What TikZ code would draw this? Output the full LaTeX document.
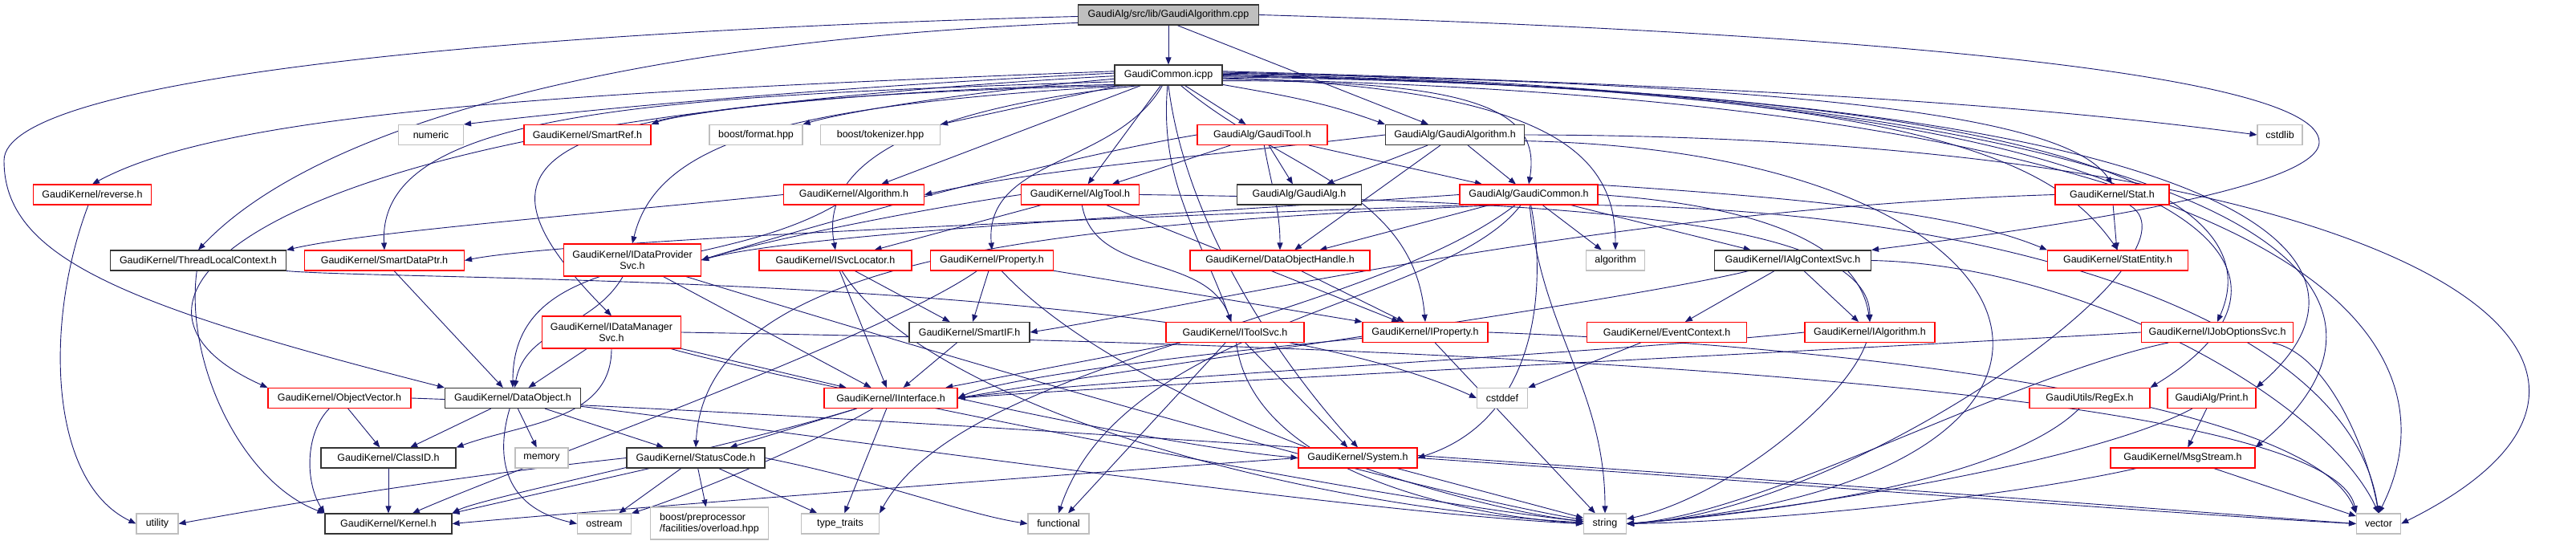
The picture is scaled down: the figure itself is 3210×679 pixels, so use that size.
\documentclass[tikz,border=0pt]{standalone}
\usepackage{fontspec}
\setmainfont{Liberation Sans}
\usetikzlibrary{arrows.meta}
\pgfdeclarelayer{bg}
\pgfsetlayers{bg,main}
\definecolor{edgeblue}{RGB}{25,25,112}
\definecolor{sysgray}{RGB}{191,191,191}
\newcommand\hdrfont{\fontsize{12.5}{14}\selectfont}
\tikzset{
  hdr/.style={draw, fill=white, font=\hdrfont, inner sep=0pt, minimum height=25pt, line width=1.1pt},
  docfile/.style={hdr, draw=black!80},
  redfile/.style={hdr, draw=red},
  sysfile/.style={hdr, draw=sysgray},
  dep/.style={draw=edgeblue, line width=0.9pt, -{Triangle[length=9pt,width=7pt]}}
}
\begin{document}
\begin{tikzpicture}[x=1pt,y=1pt]
\useasboundingbox (0,0) rectangle (3210,-679);
% row 0 and 1
\node[docfile, fill=sysgray, minimum width=225pt] (root) at (1456,-18.5) {GaudiAlg/src/lib/GaudiAlgorithm.cpp};
\node[docfile, minimum width=134pt] (icpp) at (1456,-93.5) {GaudiCommon.icpp};
% row 2
\node[sysfile, minimum width=81pt] (numeric) at (537,-168) {numeric};
\node[redfile, minimum width=158pt] (smartref) at (732,-168) {GaudiKernel/SmartRef.h};
\node[sysfile, minimum width=116pt] (format) at (942,-168) {boost/format.hpp};
\node[sysfile, minimum width=149pt] (tokenizer) at (1097,-168) {boost/tokenizer.hpp};
\node[redfile, minimum width=162pt] (gtool) at (1573,-168) {GaudiAlg/GaudiTool.h};
\node[docfile, minimum width=173pt] (galgh) at (1813,-168) {GaudiAlg/GaudiAlgorithm.h};
\node[sysfile, minimum width=56pt] (cstdlib) at (2841,-168) {cstdlib};
% row 3
\node[redfile, minimum width=147pt] (reverse) at (115,-242.5) {GaudiKernel/reverse.h};
\node[redfile, minimum width=175pt] (algo) at (1064,-242.5) {GaudiKernel/Algorithm.h};
\node[redfile, minimum width=147pt] (algtool) at (1346,-242.5) {GaudiKernel/AlgTool.h};
\node[docfile, minimum width=155pt] (galg) at (1619,-242.5) {GaudiAlg/GaudiAlg.h};
\node[redfile, minimum width=172pt] (gcommonh) at (1905,-242.5) {GaudiAlg/GaudiCommon.h};
\node[redfile, minimum width=142pt] (stat) at (2632,-242.5) {GaudiKernel/Stat.h};
% row 4
\node[docfile, minimum width=219pt] (tlc) at (247,-324.5) {GaudiKernel/ThreadLocalContext.h};
\node[redfile, minimum width=199pt] (smartdp) at (479,-324.5) {GaudiKernel/SmartDataPtr.h};
\node[redfile, minimum width=171pt, minimum height=40pt, align=center] (idpsvc) at (788,-324) {GaudiKernel/IDataProvider\\Svc.h};
\node[redfile, minimum width=190pt] (isvcloc) at (1041,-324.5) {GaudiKernel/ISvcLocator.h};
\node[redfile, minimum width=153pt] (property) at (1236,-324.5) {GaudiKernel/Property.h};
\node[redfile, minimum width=224pt] (dohandle) at (1595,-324.5) {GaudiKernel/DataObjectHandle.h};
\node[sysfile, minimum width=73pt] (algorithm) at (2013,-324.5) {algorithm};
\node[docfile, minimum width=195pt] (ialgctx) at (2234,-324.5) {GaudiKernel/IAlgContextSvc.h};
\node[redfile, minimum width=175pt] (statentity) at (2639,-324.5) {GaudiKernel/StatEntity.h};
% row 5
\node[redfile, minimum width=173pt, minimum height=40pt, align=center] (idmsvc) at (762,-414) {GaudiKernel/IDataManager\\Svc.h};
\node[docfile, minimum width=150pt] (smartif) at (1208,-414) {GaudiKernel/SmartIF.h};
\node[redfile, minimum width=172pt] (itoolsvc) at (1539,-414) {GaudiKernel/IToolSvc.h};
\node[redfile, minimum width=156pt] (iprop) at (1776,-414) {GaudiKernel/IProperty.h};
\node[redfile, minimum width=199pt] (eventctx) at (2077,-414) {GaudiKernel/EventContext.h};
\node[redfile, minimum width=162pt] (ialgorithm) at (2330,-414) {GaudiKernel/IAlgorithm.h};
\node[redfile, minimum width=189pt] (ijobopt) at (2763,-414) {GaudiKernel/IJobOptionsSvc.h};
% row 6
\node[redfile, minimum width=178pt] (objvec) at (423,-496) {GaudiKernel/ObjectVector.h};
\node[docfile, minimum width=169pt] (dataobj) at (639,-496) {GaudiKernel/DataObject.h};
\node[redfile, minimum width=166pt] (iinterface) at (1110,-496) {GaudiKernel/IInterface.h};
\node[sysfile, minimum width=63pt] (cstddef) at (1872,-496) {cstddef};
\node[redfile, minimum width=150pt] (regex) at (2604,-496) {GaudiUtils/RegEx.h};
\node[redfile, minimum width=110pt] (print) at (2756,-496) {GaudiAlg/Print.h};
% row 7
\node[docfile, minimum width=168pt] (classid) at (484,-570.5) {GaudiKernel/ClassID.h};
\node[sysfile, minimum width=66pt] (memory) at (675,-570.5) {memory};
\node[docfile, minimum width=172pt] (statuscode) at (867,-570.5) {GaudiKernel/StatusCode.h};
\node[redfile, minimum width=148pt] (system) at (1692,-570.5) {GaudiKernel/System.h};
\node[redfile, minimum width=180pt] (msgstream) at (2720,-570.5) {GaudiKernel/MsgStream.h};
% row 8
\node[sysfile, minimum width=52pt] (utility) at (196,-652.5) {utility};
\node[docfile, minimum width=158pt] (kernel) at (484,-652.5) {GaudiKernel/Kernel.h};
\node[sysfile, minimum width=67pt] (ostream) at (753,-652.5) {ostream};
\node[sysfile, minimum width=147pt, minimum height=40pt, align=left] (overload) at (884,-652) {boost/preprocessor\\/facilities/overload.hpp};
\node[sysfile, minimum width=97pt] (ttraits) at (1047,-652.5) {type\_traits};
\node[sysfile, minimum width=76pt] (functional) at (1319,-652.5) {functional};
\node[sysfile, minimum width=53pt] (string) at (2000,-652.5) {string};
\node[sysfile, minimum width=55pt] (vector) at (2964,-652.5) {vector};
\begin{pgfonlayer}{bg}
% GaudiAlgorithm.cpp
\draw[dep] (root) -- (icpp);
\draw[dep] (root.-50) -- (galgh);
\draw[dep] (root.east) .. controls (2300,-40) and (2890,-90) .. (2890,-177) .. controls (2890,-240) and (2500,-290) .. (ialgctx.north east);
\draw[dep] (root.181) .. controls (600,-40) and (5,-100) .. (5,-200) .. controls (5,-320) and (150,-380) .. (dataobj.north west);
\draw[dep] (root.185) .. controls (800,-50) and (400,-150) .. (tlc.north);
% GaudiCommon.icpp
\draw[dep] (icpp.178) .. controls (1000,-110) and (700,-140) .. (numeric.north east);
\draw[dep] (icpp.181) .. controls (1100,-110) and (850,-140) .. (smartref.north east);
\draw[dep] (icpp.184) .. controls (1200,-115) and (1050,-140) .. (format.north east);
\draw[dep] (icpp) -- (tokenizer.north east);
\draw[dep] (icpp.176) .. controls (700,-115) and (280,-140) .. (reverse.north);
\draw[dep] (icpp.187) .. controls (800,-120) and (470,-140) .. (smartdp.north);
\draw[dep] (icpp.190) .. controls (400,-125) and (60,-360) .. (objvec.north west);
\draw[dep] (icpp.195) .. controls (1000,-130) and (820,-170) .. (idpsvc.north);
\draw[dep] (icpp.192) .. controls (650,-125) and (560,-190) .. (idmsvc.north);
\draw[dep] (icpp) -- (algo);
\draw[dep] (icpp) -- (algtool);
\draw[dep] (icpp) to[out=-120,in=95] (property.north);
\draw[dep] (icpp.200) .. controls (1150,-135) and (1020,-200) .. (isvcloc.north);
\draw[dep] (icpp) to[out=-95,in=110] (itoolsvc);
\draw[dep] (icpp) to[out=-40,in=95] (iprop.north);
\draw[dep] (icpp) -- (gtool);
\draw[dep] (icpp.-10) to[out=-10,in=160] (galgh.north west);
\draw[dep] (icpp.-6) .. controls (1850,-100) and (1920,-140) .. (gcommonh.north);
\draw[dep] (icpp.-3) .. controls (1950,-110) and (2013,-200) .. (algorithm.north);
\draw[dep] (icpp.4) .. controls (2300,-110) and (2600,-140) .. (cstdlib.west);
\draw[dep] (icpp.2) .. controls (2300,-105) and (2580,-150) .. (stat.north);
\draw[dep] (icpp.0) .. controls (2400,-110) and (2560,-200) .. (statentity.north);
\draw[dep] (icpp.-2) .. controls (2600,-110) and (2830,-250) .. (ijobopt.north);
\draw[dep] (icpp.1) .. controls (2750,-115) and (2930,-330) .. (regex.north east);
\draw[dep] (icpp.-1) .. controls (2850,-115) and (2990,-330) .. (print.north east);
\draw[dep] (icpp.3) .. controls (2900,-120) and (3030,-380) .. (msgstream.north east);
\draw[dep] (icpp.-4) .. controls (2950,-125) and (3060,-450) .. (vector.north);
\draw[dep] (icpp.south) .. controls (1480,-300) and (1620,-480) .. (system.north);
% GaudiAlgorithm.h
\draw[dep] (galgh) -- (galg);
\draw[dep] (galgh) -- (gcommonh);
\draw[dep] (galgh) -- (dohandle);
\draw[dep] (galgh.west) .. controls (1500,-195) and (1300,-210) .. (algo.east);
\draw[dep] (galgh.east) .. controls (3000,-170) and (3400,-450) .. (vector.east);
\draw[dep] (galgh.-5) .. controls (2600,-190) and (2700,-600) .. (string.east);
% GaudiTool.h
\draw[dep] (gtool) -- (galg);
\draw[dep] (gtool) -- (algtool);
\draw[dep] (gtool) -- (gcommonh);
\draw[dep] (gtool) to[out=-80,in=90] (dohandle.north);
\draw[dep] (gtool.west) .. controls (1300,-200) and (1000,-285) .. (idpsvc.east);
% Algorithm.h, AlgTool.h
\draw[dep] (algo.west) .. controls (700,-270) and (450,-290) .. (tlc.north east);
\draw[dep] (algo) to[out=-150,in=90] (dataobj);
\draw[dep] (algtool) -- (isvcloc);
\draw[dep] (algtool) to[out=-80,in=110] (itoolsvc);
\draw[dep] (algtool) -- (iprop);
\draw[dep] (algtool.west) .. controls (1150,-260) and (950,-300) .. (idpsvc.east);
\draw[dep] (algtool.east) .. controls (2000,-250) and (2330,-280) .. (ialgorithm.north);
% GaudiCommon.h
\draw[dep] (gcommonh) -- (dohandle);
\draw[dep] (gcommonh) -- (algorithm);
\draw[dep] (gcommonh.west) .. controls (1500,-265) and (1000,-290) .. (idpsvc.east);
\draw[dep] (gcommonh.190) .. controls (1400,-270) and (700,-300) .. (smartdp.east);
\draw[dep] (gcommonh.200) .. controls (1300,-280) and (880,-320) .. (statuscode.north);
\draw[dep] (gcommonh) .. controls (1925,-340) and (1925,-520) .. (system.east);
\draw[dep] (gcommonh) -- (ialgctx);
\draw[dep] (gcommonh.east) .. controls (2250,-260) and (2320,-330) .. (ialgorithm.north);
\draw[dep] (gcommonh.10) .. controls (2300,-250) and (2450,-270) .. (statentity.north west);
\draw[dep] (gcommonh) to[out=-85,in=90] (string);
\draw[dep] (gcommonh.-10) .. controls (2500,-260) and (2930,-400) .. (vector.north);
\draw[dep] (gcommonh) .. controls (1700,-400) and (1200,-450) .. (ttraits.north east);
\draw[dep] (gcommonh) .. controls (1800,-380) and (1400,-400) .. (functional.north);
% Stat.h
\draw[dep] (stat) -- (statentity);
\draw[dep] (stat.west) .. controls (2000,-260) and (1500,-380) .. (smartif.east);
\draw[dep] (stat) .. controls (2760,-320) and (2300,-640) .. (string.east);
% row 4
\draw[dep] (tlc) .. controls (230,-450) and (300,-600) .. (kernel.north west);
\draw[dep] (tlc.south east) .. controls (500,-350) and (1500,-340) .. (cstddef.west);
\draw[dep] (smartdp) -- (dataobj);
\draw[dep] (idpsvc) to[out=-120,in=80] (dataobj);
\draw[dep] (idpsvc) -- (iinterface);
\draw[dep] (idpsvc) .. controls (1100,-420) and (1700,-600) .. (string);
\draw[dep] (isvcloc) -- (smartif);
\draw[dep] (isvcloc) -- (iinterface);
\draw[dep] (isvcloc) .. controls (1150,-500) and (1600,-630) .. (string);
\draw[dep] (property) -- (smartif);
\draw[dep] (property) -- (iprop);
\draw[dep] (property) .. controls (1100,-420) and (650,-580) .. (kernel);
\draw[dep] (property) .. controls (1400,-500) and (1800,-630) .. (string);
\draw[dep] (dohandle) -- (iprop);
\draw[dep] (ialgctx) -- (ialgorithm);
\draw[dep] (ialgctx) -- (eventctx);
\draw[dep] (ialgctx) .. controls (2000,-380) and (1400,-460) .. (iinterface.east);
\draw[dep] (ialgctx.east) .. controls (2600,-330) and (2900,-500) .. (vector.north);
% row 5
\draw[dep] (idmsvc) -- (dataobj);
\draw[dep] (idmsvc) to[out=-90,in=20] (classid.north east);
\draw[dep] (idmsvc) -- (iinterface);
\draw[dep] (idmsvc) .. controls (1000,-480) and (1700,-620) .. (string);
\draw[dep] (idmsvc.east) .. controls (1500,-425) and (2900,-460) .. (vector.north west);
\draw[dep] (smartif) -- (iinterface);
\draw[dep] (itoolsvc) -- (iinterface);
\draw[dep] (itoolsvc) -- (system);
\draw[dep] (itoolsvc) -- (functional);
\draw[dep] (itoolsvc) .. controls (1560,-580) and (1800,-640) .. (string.west);
\draw[dep] (iprop) .. controls (1500,-440) and (1250,-470) .. (iinterface.east);
\draw[dep] (iprop) -- (string);
\draw[dep] (iprop.east) .. controls (2300,-430) and (2880,-500) .. (vector.north west);
\draw[dep] (eventctx) -- (cstddef);
\draw[dep] (ialgorithm.west) .. controls (2000,-440) and (1400,-470) .. (iinterface.east);
\draw[dep] (ialgorithm) .. controls (2300,-500) and (2150,-620) .. (string);
\draw[dep] (ijobopt.west) .. controls (2400,-430) and (1400,-480) .. (iinterface.east);
\draw[dep] (ijobopt) .. controls (2500,-470) and (2200,-640) .. (string.east);
\draw[dep] (ijobopt) .. controls (2900,-440) and (2950,-560) .. (vector.north);
% row 6
\draw[dep] (objvec) -- (classid);
\draw[dep] (objvec) .. controls (380,-540) and (380,-600) .. (kernel.north west);
\draw[dep] (objvec.east) .. controls (1200,-520) and (2500,-620) .. (vector.west);
\draw[dep] (dataobj) -- (classid);
\draw[dep] (dataobj) -- (memory);
\draw[dep] (dataobj) .. controls (620,-560) and (620,-630) .. (ostream.west);
\draw[dep] (dataobj) -- (statuscode);
\draw[dep] (dataobj) .. controls (1000,-540) and (1700,-640) .. (string.west);
\draw[dep] (iinterface) -- (statuscode);
\draw[dep] (iinterface.east) .. controls (1300,-520) and (1500,-560) .. (system.west);
\draw[dep] (iinterface) .. controls (900,-560) and (600,-620) .. (kernel.north east);
\draw[dep] (iinterface) -- (ttraits);
\draw[dep] (iinterface) .. controls (1000,-560) and (850,-620) .. (ostream.north east);
\draw[dep] (regex) .. controls (2500,-600) and (2200,-640) .. (string.east);
\draw[dep] (print) -- (msgstream);
\draw[dep] (print) .. controls (2600,-580) and (2200,-640) .. (string.east);
% row 7
\draw[dep] (classid) -- (kernel);
\draw[dep] (statuscode.west) .. controls (600,-590) and (400,-620) .. (utility.east);
\draw[dep] (statuscode) -- (kernel.north east);
\draw[dep] (statuscode) -- (ostream);
\draw[dep] (statuscode) -- (overload);
\draw[dep] (statuscode) -- (ttraits);
\draw[dep] (statuscode.east) .. controls (1100,-600) and (1200,-640) .. (functional.west);
\draw[dep] (system.west) .. controls (1200,-600) and (700,-640) .. (kernel.east);
\draw[dep] (system) -- (string);
\draw[dep] (system.east) .. controls (2200,-600) and (2700,-640) .. (vector.west);
\draw[dep] (msgstream) .. controls (2500,-620) and (2200,-650) .. (string.east);
\draw[dep] (msgstream) -- (vector);
\draw[dep] (reverse) .. controls (55,-400) and (60,-600) .. (utility.west);
\end{pgfonlayer}
\end{tikzpicture}
\end{document}
